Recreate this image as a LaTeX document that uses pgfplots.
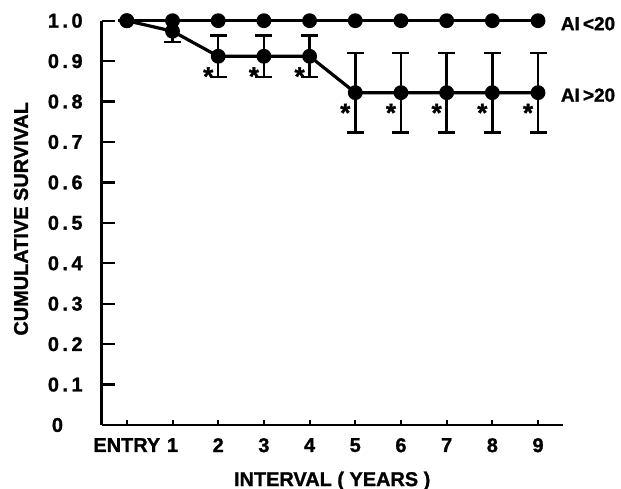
\documentclass[border=0pt]{standalone}
\usepackage{fontspec}
\setmainfont{Liberation Sans}[BoldFeatures={FakeBold=1.2}]
\usepackage{pgfplots}
\usepackage{pgfplotstable}
\pgfplotsset{compat=1.18}
\pgfplotstableread{
x y e
0 1.000 0
1 1.000 0
2 1.000 0
3 1.000 0
4 1.000 0
5 1.000 0
6 1.000 0
7 1.000 0
8 1.000 0
9 1.000 0
}\lowAI
\pgfplotstableread{
x y e
0 1.000 0
1 0.974 0.027
2 0.912 0.051
3 0.912 0.051
4 0.912 0.051
5 0.822 0.098
6 0.822 0.098
7 0.822 0.098
8 0.822 0.098
9 0.822 0.098
}\highAI
\pgfplotstableread{
x y
2 0.912
3 0.912
4 0.912
5 0.822
6 0.822
7 0.822
8 0.822
9 0.822
}\stars
\newcommand{\yl}[3]{#1\kern3.5bp#2\kern3.5bp#3}
\begin{document}
\begin{tikzpicture}[font=\bfseries]
\begin{axis}[
  scale only axis, width=461bp, height=404.3bp,
  xmin=-0.55, xmax=9.54, ymin=0, ymax=1,
  axis x line*=bottom, axis y line*=left,
  axis line style={line width=2.6bp},
  tick align=inside,
  clip=false,
  xtick={0,1,2,3,4,5,6,7,8,9},
  xticklabels={ENTRY,1,2,3,4,5,6,7,8,9},
  ytick={0,0.1,0.2,0.3,0.4,0.5,0.6,0.7,0.8,0.9,1.0},
  yticklabels={\kern4bp 0,\yl0.1,\yl0.2,\yl0.3,\yl0.4,\yl0.5,\yl0.6,\yl0.7,\yl0.8,\yl0.9,\yl1.0},
  x tick style={line width=2bp, black, /pgfplots/major tick length=5bp},
  y tick style={line width=2.2bp, black, /pgfplots/major tick length=13bp},
  xticklabel style={font=\fontsize{20}{20}\selectfont\bfseries, inner sep=0pt, anchor=north, yshift=-13bp},
  yticklabel style={font=\fontsize{20}{20}\selectfont\bfseries, inner sep=0pt, anchor=west, xshift=-54bp},
  xlabel={INTERVAL ( YEARS )},
  ylabel={CUMULATIVE SURVIVAL},
  xlabel style={font=\fontsize{20}{20}\selectfont\bfseries, at={(axis description cs:0.5,-0.151)}, anchor=base},
  ylabel style={font=\fontsize{20}{20}\selectfont\bfseries, at={(axis description cs:-0.175,0.51)}, anchor=center, rotate=0},
]
\addplot[black, line width=3.2bp, mark=*, mark size=5.8bp,
  error bars/.cd, y dir=both, y explicit,
  error bar style={line width=2.5bp, black},
  error mark options={rotate=90, mark size=8.5bp, line width=2.5bp, black}]
  table[x=x, y=y, y error=e] {\highAI};
\addplot[black, line width=3.2bp, mark=*, mark size=5.8bp] table[x=x, y=y] {\lowAI};
\addplot[draw=none, mark=none, nodes near coords={*},
  every node near coord/.style={anchor=center, inner sep=0pt, xshift=-10bp, yshift=-20bp, font=\fontsize{26}{26}\selectfont\bfseries}]
  table[x=x, y=y] {\stars};
\node[anchor=west, inner sep=0pt, xshift=22.7bp, yshift=-3bp, font=\fontsize{19}{19}\selectfont\bfseries] at (axis cs:9,1.0) {AI\,<20};
\node[anchor=west, inner sep=0pt, xshift=22.7bp, yshift=-2.5bp, font=\fontsize{19}{19}\selectfont\bfseries] at (axis cs:9,0.822) {AI\,>20};
\end{axis}
\pgfresetboundingbox
\path (current axis.south west) ++(-101.7bp,-64bp) rectangle ++(621bp,489bp);
\end{tikzpicture}
\end{document}
